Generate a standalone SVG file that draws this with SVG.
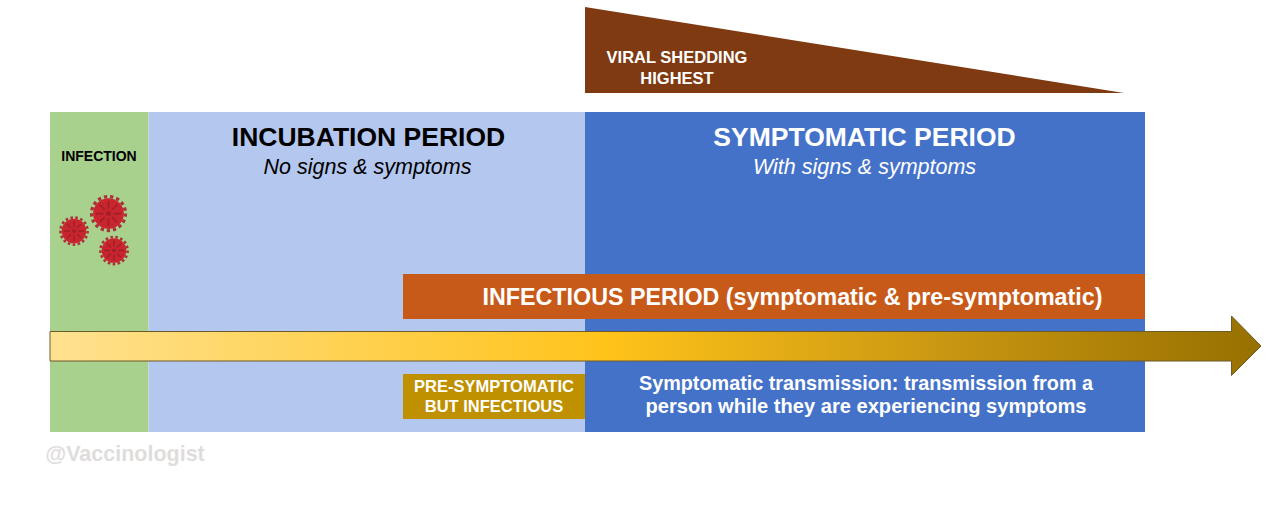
<svg xmlns="http://www.w3.org/2000/svg" xmlns:xlink="http://www.w3.org/1999/xlink" width="1280" height="508" viewBox="0 0 1280 508">
<style>
text{font-family:"Liberation Sans",Arial,sans-serif;text-anchor:middle}
.b{font-weight:700}
.i{font-style:italic}
.w{fill:#fff}
.k{fill:#000}
</style>
<defs>
<linearGradient id="g" gradientUnits="userSpaceOnUse" x1="50" y1="0" x2="1262" y2="0">
<stop offset="0" stop-color="#ffe291"/>
<stop offset="0.46" stop-color="#ffc31a"/>
<stop offset="0.75" stop-color="#c79511"/>
<stop offset="1" stop-color="#967000"/>
</linearGradient>
<g id="virus">
<circle r="13.6" fill="none" stroke="#a8323a" stroke-width="2.600" stroke-dasharray="2.600 2.400"/>
<circle r="12.300" fill="#c9252e"/>
<path d="M-10 0H-4M4 0H10M0-10V-4M0 4V10M-7-7L-3-3M3 3L7 7M-7 7L-3 3M3-3L7-7" stroke="#a01f29" stroke-width="1.400" fill="none"/>
<circle r="2" fill="#a01f29"/>
</g>
</defs>
<rect width="1280" height="508" fill="#fff"/>
<g id="shedding">
<path d="M585 7L1124 93H585Z" fill="#7f3a12"/>
<text class="b w" font-size="16.500" x="677" y="63">VIRAL SHEDDING</text>
<text class="b w" font-size="16.500" x="677" y="84">HIGHEST</text>
</g>
<g id="infection">
<rect x="50" y="112" width="98.500" height="320" fill="#a9d18e"/>
<text class="b k" font-size="14" x="99" y="161">INFECTION</text>
<use xlink:href="#virus" href="#virus" transform="translate(108.500 213.500) scale(1.250)"/>
<use xlink:href="#virus" href="#virus" transform="translate(74 231)"/>
<use xlink:href="#virus" href="#virus" transform="translate(114 250.500)"/>
</g>
<g id="incubation">
<rect x="148.500" y="112" width="436.500" height="320" fill="#b4c7ee"/>
<text class="b k" font-size="26.500" x="368.500" y="146">INCUBATION PERIOD</text>
<text class="i k" font-size="21.500" x="367.500" y="174">No signs &amp; symptoms</text>
</g>
<g id="symptomatic">
<rect x="585" y="112" width="560" height="320" fill="#4472c9"/>
<text class="b w" font-size="26.500" x="864.500" y="146">SYMPTOMATIC PERIOD</text>
<text class="i w" font-size="21.500" x="864.500" y="174">With signs &amp; symptoms</text>
<text class="b w" font-size="19.800" x="866" y="390">Symptomatic transmission: transmission from a</text>
<text class="b w" font-size="20.100" x="866" y="413">person while they are experiencing symptoms</text>
</g>
<g id="infectious">
<rect x="403" y="274" width="742" height="45" fill="#c85a19"/>
<text class="b w" font-size="23.300" x="792.500" y="305">INFECTIOUS PERIOD (symptomatic &amp; pre-symptomatic)</text>
</g>
<g id="presymptomatic">
<rect x="403" y="374" width="182" height="45" fill="#bf9000"/>
<text class="b w" font-size="16.500" x="494" y="392">PRE-SYMPTOMATIC</text>
<text class="b w" font-size="16.500" x="494" y="412">BUT INFECTIOUS</text>
</g>
<g id="connectors">
<path d="M50 331.500H1231.500V316L1261 346L1231.500 375.500V361H50Z" fill="url(#g)" stroke="#6b5a2a" stroke-width="1"/>
</g>
<text id="credit" class="b" font-size="21.500" fill="#dfdddc" x="125" y="461">@Vaccinologist</text>
</svg>
